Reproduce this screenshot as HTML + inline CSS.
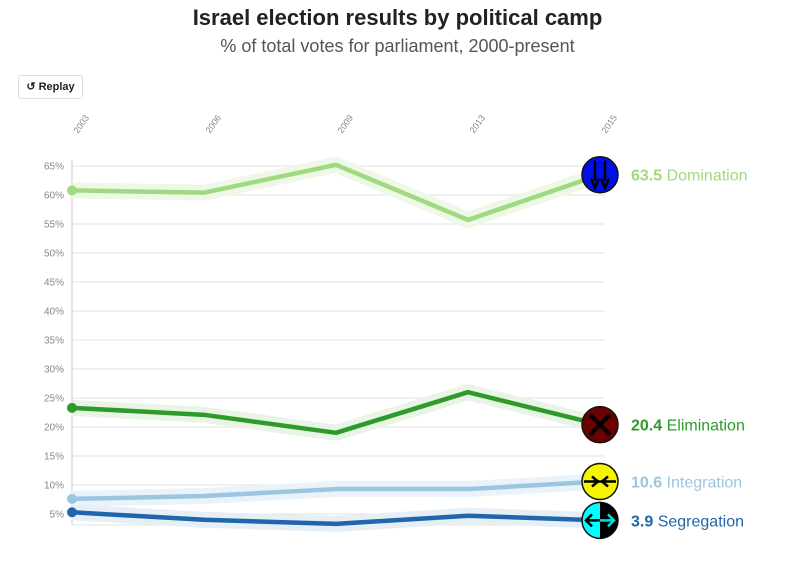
<!DOCTYPE html>
<html><head><meta charset="utf-8"><style>
body{margin:0;background:#fff;font-family:"Liberation Sans",sans-serif;}
#wrap{position:relative;width:795px;height:563px;overflow:hidden;}
h1{position:absolute;top:5px;left:0;width:795px;text-align:center;margin:0;font-size:22px;font-weight:bold;color:#222;}
h2{position:absolute;top:36px;left:0;width:795px;text-align:center;margin:0;font-size:18px;font-weight:normal;color:#555;}
#replay{position:absolute;left:18px;top:75px;width:63px;height:22px;border:1px solid #ddd;border-radius:3px;font-size:11px;font-weight:bold;color:#222;line-height:22px;text-align:center;background:#fff;}
</style></head><body><div id="wrap">
<h1>Israel election results by political camp</h1>
<h2>% of total votes for parliament, 2000-present</h2>
<div id="replay">↺ Replay</div>
<svg id="chart" width="795" height="563" style="position:absolute;left:0;top:0"></svg>
</div>
<script>
const years=["2003","2006","2009","2013","2015"];
const domination=[60.8,60.4,65.2,55.7,63.5];
const elimination=[23.3,22.1,19.0,26.0,20.4];
const integration=[7.6,8.1,9.3,9.3,10.6];
const segregation=[5.3,4.0,3.3,4.7,3.9];
const yTicks=[5,10,15,20,25,30,35,40,45,50,55,60,65];
const seriesNames=["Domination","Elimination","Integration","Segregation"];
const NS="http://www.w3.org/2000/svg";
const svg=document.getElementById('chart');
const x0=72,x1=600;
const xs=i=>x0+i*(x1-x0)/(years.length-1);
const ys=v=>543-v*5.8;
function mk(t,a){const e=document.createElementNS(NS,t);for(const k in a)e.setAttribute(k,a[k]);svg.appendChild(e);return e;}
yTicks.forEach(v=>{
 const l=mk('line',{x1:x0,x2:605,y1:ys(v),y2:ys(v),stroke:'#e2e2e2','stroke-width':1});
 
 
 const t=mk('text',{x:64,y:ys(v)+3.5,'text-anchor':'end','font-size':10,fill:'#888'});
 t.textContent=v+'%';
 
 
});
const ax=mk('line',{x1:x0,x2:x0,y1:160,y2:525,stroke:'#ccc'});


const bx=mk('line',{x1:x0,x2:605,y1:525,y2:525,stroke:'#e2e2e2'});


years.forEach((y,i)=>{
 const t=mk('text',{x:xs(i)+6,y:134,'font-size':9,fill:'#888',transform:`rotate(-55 ${xs(i)+6} 134)`});
 t.textContent=y;
 
 
});
const sets=[domination,elimination,integration,segregation];
const cols=['#a1d97f','#2e9a2a','#9cc5e0','#2166ac'];
const halo=['#eef8e6','#e8f4e4','#eaf3fa','#e6eef6'];
sets.forEach((d,s)=>{
 const pts=d.map((v,i)=>xs(i)+','+ys(v)).join(' ');
 const h=mk('polyline',{points:pts,fill:'none',stroke:halo[s],'stroke-width':16,'stroke-linejoin':'round'});
 
 
});
sets.forEach((d,s)=>{
 const pts=d.map((v,i)=>xs(i)+','+ys(v)).join(' ');
 const p=mk('polyline',{points:pts,fill:'none',stroke:cols[s],'stroke-width':4.5,'stroke-linejoin':'round'});
 
 
 const c=mk('circle',{cx:xs(0),cy:ys(d[0]),r:5,fill:cols[s]});
 
 
});
const iconFill=['#0010e8','#6b0000','#f5f500','#00ffff'];
const labelCols=['#a1d97f','#2e9a2a','#9cc5e0','#2166ac'];
sets.forEach((d,s)=>{
 const last=d.length-1,cx=xs(last),cy=ys(d[last]);
 const g=document.createElementNS(NS,'g');svg.appendChild(g);
 
 
 const c=document.createElementNS(NS,'circle');
 c.setAttribute('cx',cx);c.setAttribute('cy',cy);c.setAttribute('r',18);c.setAttribute('fill',iconFill[s]);c.setAttribute('stroke','#111');c.setAttribute('stroke-width',1.5);g.appendChild(c);
 let a='';
 if(s==0)a=`M${cx-5} ${cy-14}V${cy+6}M${cx+5} ${cy-14}V${cy+6}M${cx-9} ${cy+4}L${cx-5} ${cy+13}L${cx-1} ${cy+4}M${cx+1} ${cy+4}L${cx+5} ${cy+13}L${cx+9} ${cy+4}`;
 if(s==1)a=`M${cx-10} ${cy-10}L${cx+10} ${cy+10}M${cx+10} ${cy-10}L${cx-10} ${cy+10}`;
 if(s==2)a=`M${cx-16} ${cy}H${cx+16}M${cx-8} ${cy-5}L${cx-2} ${cy}L${cx-8} ${cy+5}M${cx+8} ${cy-5}L${cx+2} ${cy}L${cx+8} ${cy+5}`;
 if(s==3){const h=document.createElementNS(NS,'path');h.setAttribute('d',`M${cx} ${cy-18}A18 18 0 0 1 ${cx} ${cy+18}Z`);h.setAttribute('fill','#000');g.appendChild(h);
  a=`M${cx-14} ${cy}H${cx+14}M${cx-8} ${cy-6}L${cx-14} ${cy}L${cx-8} ${cy+6}M${cx+8} ${cy-6}L${cx+14} ${cy}L${cx+8} ${cy+6}`;}
 const p=document.createElementNS(NS,'path');p.setAttribute('d',a);p.setAttribute('stroke',s==3?'#00e0e0':'#000');p.setAttribute('stroke-width',s==1?4:2.5);p.setAttribute('fill','none');g.appendChild(p);
 if(s==3){const p2=document.createElementNS(NS,'path');p2.setAttribute('d',`M${cx-14} ${cy}H${cx}M${cx-8} ${cy-6}L${cx-14} ${cy}L${cx-8} ${cy+6}`);p2.setAttribute('stroke','#000');p2.setAttribute('stroke-width',2.5);p2.setAttribute('fill','none');g.appendChild(p2);}
 const t=mk('text',{x:631,y:cy+6,'font-size':16,fill:labelCols[s]});
 t.innerHTML=`<tspan font-weight="bold">${d[last].toFixed(1)}</tspan> ${seriesNames[s]}`;
 
 
});
</script></body></html>
